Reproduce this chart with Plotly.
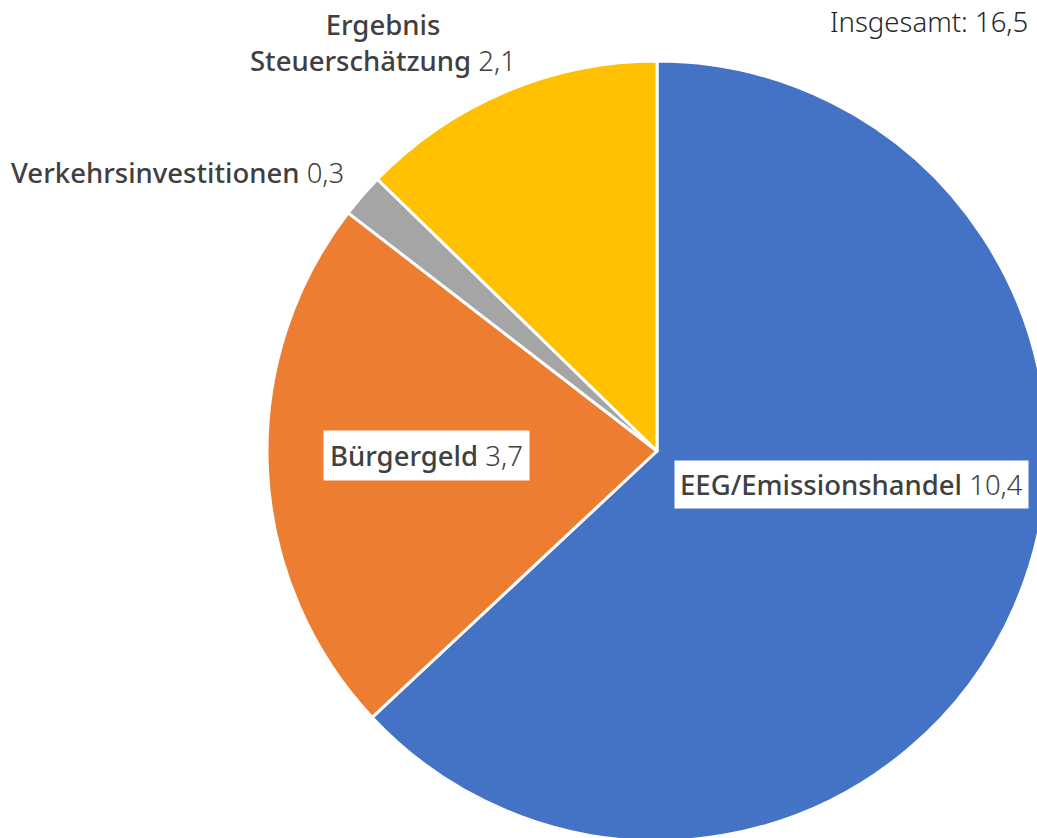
import plotly.graph_objects as go

categories = ["EEG/Emissionshandel", "Bürgergeld", "Verkehrsinvestitionen", "Ergebnis Steuerschätzung"]
values = [10.4, 3.7, 0.3, 2.1]
value_labels = ["10,4", "3,7", "0,3", "2,1"]
total_label = "16,5"
colors = ["#4472C4", "#ED7D31", "#A5A5A5", "#FFC000"]

# figure slightly larger than the window; the page clips it like the reference
W, H = 1050, 850
FONT = "Noto Sans"
TXT = "#404040"

fig = go.Figure(go.Pie(
    labels=categories,
    values=values,
    sort=False,
    direction="clockwise",
    rotation=0,
    marker=dict(colors=colors, line=dict(color="white", width=3)),
    textinfo="none",
    hoverinfo="label+value",
    showlegend=False,
    domain=dict(x=[267 / W, 1047 / W], y=[1 - 841 / H, 1 - 61 / H]),
))


def px(x, y):
    return x / W, 1 - y / H


def lab(name, val):
    return f"<span style='font-weight:500'>{name}</span> <span style='font-weight:300'>{val}</span>"


SZ = 27.5
anns = []
# Insgesamt (kept fully visible at the top right)
x, y = px(1030, 22)
anns.append(dict(x=x, y=y, xref="paper", yref="paper", xanchor="right", yanchor="middle",
                 text=f"<span style='font-weight:300'>Insgesamt: {total_label}</span>",
                 showarrow=False, font=dict(family=FONT, size=27.5, color="#262626")))
# Ergebnis Steuerschätzung
x, y = px(383, 43)
anns.append(dict(x=x, y=y, xref="paper", yref="paper", xanchor="center", yanchor="middle",
                 text="<span style='font-weight:500'>Ergebnis</span><br>" + lab("Steuerschätzung", value_labels[3]),
                 align="center", showarrow=False, font=dict(family=FONT, size=SZ, color=TXT)))
# Verkehrsinvestitionen
x, y = px(9, 173)
anns.append(dict(x=x, y=y, xref="paper", yref="paper", xanchor="left", yanchor="middle",
                 text=lab(categories[2], value_labels[2]),
                 showarrow=False, font=dict(family=FONT, size=SZ, color=TXT)))
# Bürgergeld
x, y = px(426, 455)
anns.append(dict(x=x, y=y, xref="paper", yref="paper", xanchor="center", yanchor="middle",
                 text=lab(categories[1], value_labels[1]), bgcolor="white", borderpad=6,
                 showarrow=False, font=dict(family=FONT, size=SZ, color=TXT)))
# EEG
x, y = px(851, 484)
anns.append(dict(x=x, y=y, xref="paper", yref="paper", xanchor="center", yanchor="middle",
                 text=lab(categories[0], value_labels[0]), bgcolor="white", borderpad=5,
                 showarrow=False, font=dict(family=FONT, size=SZ, color=TXT)))

fig.update_layout(
    width=W, height=H,
    margin=dict(l=0, r=0, t=0, b=0),
    paper_bgcolor="white",
    plot_bgcolor="white",
    annotations=anns,
)

fig.write_html(
    "out.html",
    config={"displayModeBar": False},
    post_script="document.body.style.margin='0';document.body.style.overflow='hidden';"
                "document.documentElement.style.overflow='hidden';",
)
